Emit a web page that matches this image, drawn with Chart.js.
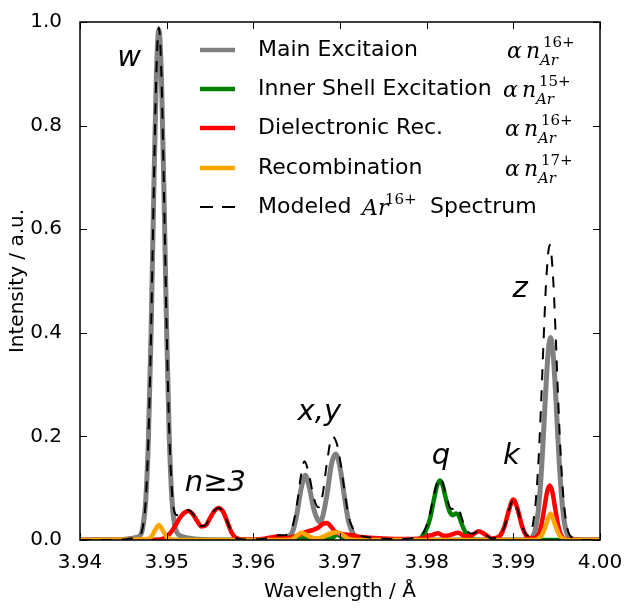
<!DOCTYPE html>
<html>
<head>
<meta charset="utf-8">
<script src="https://cdn.jsdelivr.net/npm/chart.js@4.4.1/dist/chart.umd.min.js"></script>
<style>
  html, body { margin: 0; padding: 0; background: #fff; }
</style>
</head>
<body>
<canvas id="spectrum" width="629" height="608"></canvas>
<script>
// wavelength (Angstrom) / intensity pairs
const mainWl = [3.940, 3.944, 3.9455, 3.9465, 3.947, 3.9473, 3.9476, 3.9479, 3.9482, 3.9485, 3.9488, 3.9491,
  3.9494, 3.9497, 3.9500, 3.9503, 3.9506, 3.9509, 3.9512, 3.9516, 3.9525, 3.954, 3.957,
  3.962, 3.963, 3.964, 3.9645, 3.965, 3.9655, 3.966, 3.9665, 3.967, 3.9674, 3.9677, 3.968, 3.9685,
  3.969, 3.9695, 3.970, 3.9705, 3.971, 3.9715, 3.972, 3.973, 3.975,
  3.991, 3.9918, 3.9922, 3.9925, 3.9928, 3.9931, 3.9934, 3.9937, 3.994, 3.9943, 3.9946, 3.9949,
  3.9952, 3.9955, 3.9958, 3.9961, 3.9964, 3.9968, 3.998, 4.000];
const mainInt = [0, 0, 0.002, 0.005, 0.01, 0.03, 0.08, 0.198, 0.40, 0.66, 0.891, 0.985,
  0.891, 0.66, 0.40, 0.198, 0.08, 0.03, 0.014, 0.008, 0.004, 0.001, 0,
  0, 0.002, 0.006, 0.015, 0.048, 0.098, 0.125, 0.098, 0.058, 0.04, 0.035, 0.045, 0.088,
  0.145, 0.166, 0.14, 0.085, 0.035, 0.013, 0.005, 0.002, 0,
  0, 0.002, 0.006, 0.017, 0.045, 0.098, 0.179, 0.276, 0.358, 0.391, 0.358, 0.276,
  0.179, 0.098, 0.045, 0.017, 0.006, 0.002, 0, 0];

const innerWl = [3.940, 3.964, 3.9655, 3.9662, 3.967, 3.969, 3.9697, 3.9705, 3.972,
  3.979, 3.9796, 3.980, 3.9804, 3.9808, 3.9812, 3.9815, 3.9818, 3.9821, 3.9824, 3.9827, 3.983,
  3.9834, 3.9837, 3.984, 3.9844, 3.9848, 3.9853, 3.986, 4.000];
const innerInt = [0, 0, 0.002, 0.005, 0.001, 0.003, 0.01, 0.002, 0,
  0, 0.01, 0.022, 0.042, 0.075, 0.105, 0.115, 0.108, 0.088, 0.068, 0.053, 0.048,
  0.051, 0.047, 0.033, 0.017, 0.007, 0.001, 0, 0];

const dielWl = [3.940, 3.948, 3.9495, 3.950, 3.9505, 3.951, 3.9515, 3.952, 3.9525, 3.953, 3.9535, 3.954,
  3.9545, 3.955, 3.9555, 3.956, 3.9565, 3.957, 3.9575, 3.958, 3.959, 3.961, 3.962, 3.963, 3.9635,
  3.964, 3.965, 3.966, 3.967, 3.9675, 3.968, 3.9685, 3.969, 3.9695, 3.970, 3.971, 3.972, 3.974, 3.977,
  3.9795, 3.980, 3.9807, 3.9813, 3.982, 3.9826, 3.9836, 3.9845, 3.9852, 3.986, 3.9868, 3.9875,
  3.988, 3.9885, 3.989, 3.9895, 3.990, 3.9905, 3.991, 3.9915, 3.992,
  3.9925, 3.993, 3.9933, 3.9936, 3.9939, 3.9942, 3.9945, 3.9948, 3.9951, 3.9954, 3.9957, 3.9962, 4.000];
const dielInt = [0, 0, 0.002, 0.006, 0.015, 0.028, 0.042, 0.052, 0.056, 0.05, 0.037, 0.026,
  0.028, 0.042, 0.056, 0.062, 0.055, 0.035, 0.014, 0.004, 0.001, 0.002, 0.005, 0.007, 0.005,
  0.004, 0.008, 0.015, 0.02, 0.024, 0.031, 0.033, 0.025, 0.015, 0.012, 0.01, 0.007, 0.004, 0.002,
  0.003, 0.007, 0.01, 0.013, 0.008, 0.009, 0.014, 0.007, 0.009, 0.017, 0.01, 0.003,
  0.004, 0.009, 0.027, 0.058, 0.078, 0.059, 0.027, 0.008, 0.003,
  0.004, 0.014, 0.034, 0.064, 0.093, 0.105, 0.093, 0.064, 0.034, 0.014, 0.005, 0.001, 0];

const recWl = [3.940, 3.9478, 3.9482, 3.9486, 3.9491, 3.9496, 3.950, 3.9504, 3.951,
  3.964, 3.9645, 3.965, 3.9656, 3.9662, 3.9668, 3.9675, 3.968, 3.969, 3.9697, 3.9705, 3.971, 3.972,
  3.9925, 3.9928, 3.9933, 3.9938, 3.9943, 3.9948, 3.9953, 3.9958, 3.9963, 4.000];
const recInt = [0, 0.002, 0.006, 0.017, 0.029, 0.017, 0.006, 0.002, 0,
  0, 0.002, 0.008, 0.014, 0.009, 0.004, 0.003, 0.006, 0.013, 0.015, 0.008, 0.002, 0,
  0, 0.002, 0.01, 0.03, 0.051, 0.03, 0.01, 0.002, 0, 0];

const modelWl = [3.940, 3.944, 3.9455, 3.9465, 3.947, 3.9473, 3.9476, 3.9479, 3.9482, 3.9485, 3.9488, 3.9491,
  3.9494, 3.9497, 3.9500, 3.9503, 3.9506, 3.9509, 3.9512, 3.9516, 3.952, 3.9525, 3.953, 3.9535, 3.954,
  3.9545, 3.955, 3.9555, 3.956, 3.9565, 3.957, 3.9575, 3.958, 3.959, 3.961, 3.962, 3.963, 3.9635,
  3.964, 3.9645, 3.965, 3.9655, 3.9659, 3.9664, 3.967, 3.9675, 3.968, 3.9685, 3.9691, 3.9696, 3.970,
  3.9705, 3.971, 3.9715, 3.972, 3.974, 3.977,
  3.9795, 3.980, 3.9804, 3.9808, 3.9812, 3.9815, 3.9818, 3.9821, 3.9824, 3.9827, 3.983, 3.9834, 3.9837,
  3.984, 3.9844, 3.9848, 3.9853, 3.986, 3.9868, 3.9875,
  3.988, 3.9885, 3.989, 3.9895, 3.990, 3.9905, 3.991, 3.9915, 3.9918,
  3.992, 3.9923, 3.9926, 3.9929, 3.9932, 3.9935, 3.9938, 3.9942, 3.9946, 3.9949, 3.9952, 3.9955,
  3.9958, 3.9961, 3.9964, 3.9967, 3.9972, 3.998, 4.000];
const modelInt = [0, 0, 0.002, 0.005, 0.01, 0.03, 0.08, 0.2, 0.402, 0.665, 0.895, 0.99,
  0.895, 0.665, 0.406, 0.208, 0.096, 0.054, 0.048, 0.05, 0.055, 0.058, 0.051, 0.038, 0.027,
  0.029, 0.043, 0.057, 0.062, 0.055, 0.035, 0.014, 0.004, 0.001, 0.002, 0.005, 0.009, 0.009,
  0.012, 0.025, 0.065, 0.125, 0.152, 0.128, 0.08, 0.063, 0.088, 0.15, 0.2, 0.188, 0.155,
  0.097, 0.045, 0.022, 0.012, 0.004, 0.002,
  0.012, 0.029, 0.052, 0.084, 0.11, 0.12, 0.113, 0.095, 0.077, 0.062, 0.06, 0.064, 0.061,
  0.045, 0.025, 0.015, 0.012, 0.017, 0.01, 0.003,
  0.004, 0.009, 0.027, 0.058, 0.078, 0.059, 0.027, 0.01, 0.008,
  0.013, 0.034, 0.077, 0.152, 0.261, 0.389, 0.503, 0.57, 0.503, 0.389, 0.261, 0.152,
  0.077, 0.034, 0.013, 0.006, 0.002, 0, 0];

const xTicks = [3.94, 3.95, 3.96, 3.97, 3.98, 3.99, 4.00];
const yTicks = [0, 0.2, 0.4, 0.6, 0.8, 1.0];

const legendNames = ['Main Excitaion', 'Inner Shell Excitation', 'Dielectronic Rec.', 'Recombination'];
const legendCharges = ['16+', '15+', '16+', '17+'];

const peakNames = ['w', 'n\u22653', 'x,y', 'q', 'k', 'z'];
const peakNameWl = [3.9443, 3.9521, 3.9651, 3.9806, 3.9888, 3.9899];
const peakNameInt = [0.915, 0.095, 0.232, 0.147, 0.147, 0.47];

const colors = { main: '#808080', inner: '#008000', diel: '#ff0000', rec: '#ffa500' };

function pairs(xs, ys) {
  return xs.map((x, i) => ({ x, y: ys[i] }));
}

function series(data, color, order) {
  return {
    data,
    borderColor: color,
    borderWidth: 4.5,
    pointRadius: 0,
    cubicInterpolationMode: 'monotone',
    fill: false,
    order,
  };
}

const datasets = [
  Object.assign(series(pairs(mainWl, mainInt), colors.main, 4), { borderWidth: 5 }),
  series(pairs(innerWl, innerInt), colors.inner, 3),
  series(pairs(dielWl, dielInt), colors.diel, 2),
  series(pairs(recWl, recInt), colors.rec, 1),
  Object.assign(series(pairs(modelWl, modelInt), '#000000', 0), { borderWidth: 2, borderDash: [11, 10] }),
];

function line(ctx, x1, y1, x2, y2) {
  ctx.beginPath();
  ctx.moveTo(x1, y1);
  ctx.lineTo(x2, y2);
  ctx.stroke();
}

// inward ticks on all four sides, frame, peak names, legend with the charge states
const overlay = {
  id: 'overlay',
  afterDraw(chart) {
    const ctx = chart.ctx;
    const a = chart.chartArea;
    const xs = chart.scales.x;
    const ys = chart.scales.y;
    ctx.save();
    ctx.strokeStyle = '#000';
    ctx.lineWidth = 1;
    xTicks.forEach((v) => {
      const px = Math.round(xs.getPixelForValue(v)) + 0.5;
      line(ctx, px, a.bottom, px, a.bottom - 7);
      line(ctx, px, a.top, px, a.top + 7);
    });
    yTicks.forEach((v) => {
      const py = Math.round(ys.getPixelForValue(v)) + 0.5;
      line(ctx, a.left, py, a.left + 7, py);
      line(ctx, a.right, py, a.right - 7, py);
    });
    ctx.lineWidth = 1.5;
    ctx.strokeRect(a.left, a.top, a.right - a.left, a.bottom - a.top);

    ctx.fillStyle = '#000';
    ctx.font = 'italic 29px "DejaVu Sans"';
    ctx.textBaseline = 'alphabetic';
    ctx.textAlign = 'left';
    peakNames.forEach((name, i) => {
      ctx.fillText(name, xs.getPixelForValue(peakNameWl[i]), ys.getPixelForValue(peakNameInt[i]));
    });

    const rows = [50, 89, 128, 168, 207];
    const mathX = [507, 503, 505, 505];
    const handleColors = [colors.main, colors.inner, colors.diel, colors.rec];
    ctx.lineWidth = 4.5;
    legendNames.forEach((name, i) => {
      const y = rows[i];
      ctx.strokeStyle = handleColors[i];
      line(ctx, 200, y, 235, y);
      ctx.font = '22px "DejaVu Sans"';
      ctx.textBaseline = 'middle';
      ctx.fillText(name, 258, y);
      ctx.textBaseline = 'alphabetic';
      const m = mathX[i];
      ctx.font = 'italic 22px "DejaVu Serif"';
      ctx.fillText('\u03b1', m, y + 8);
      ctx.fillText('n', m + 19, y + 8);
      ctx.font = 'italic 15px "DejaVu Serif"';
      ctx.fillText('Ar', m + 33, y + 15);
      ctx.font = '15px "DejaVu Serif"';
      ctx.fillText(legendCharges[i], m + 36, y - 3);
    });
    const y5 = rows[4];
    ctx.strokeStyle = '#000';
    ctx.lineWidth = 2;
    ctx.setLineDash([13, 9]);
    line(ctx, 200, y5, 235, y5);
    ctx.setLineDash([]);
    ctx.font = '22px "DejaVu Sans"';
    ctx.textBaseline = 'middle';
    ctx.fillText('Modeled', 258, y5);
    ctx.fillText('Spectrum', 430, y5);
    ctx.textBaseline = 'alphabetic';
    ctx.font = 'italic 22px "DejaVu Serif"';
    ctx.fillText('Ar', 362, y5 + 8);
    ctx.font = '15px "DejaVu Serif"';
    ctx.fillText('16+', 385, y5 - 3);
    ctx.restore();
  },
};

const canvas = document.getElementById('spectrum');

const chart = new Chart(canvas, {
  type: 'line',
  data: { datasets },
  options: {
    responsive: false,
    animation: false,
    devicePixelRatio: 1,
    layout: { padding: { top: 16, right: 29, left: 0, bottom: 0 } },
    plugins: { legend: { display: false }, tooltip: { enabled: false } },
    scales: {
      x: {
        type: 'linear',
        min: 3.94,
        max: 4.00,
        grid: { display: false },
        border: { display: false },
        afterBuildTicks: (scale) => { scale.ticks = xTicks.map((v) => ({ value: v })); },
        afterFit: (scale) => { scale.height = 68; },
        ticks: {
          color: '#000',
          font: { family: 'DejaVu Sans', size: 20 },
          padding: 3,
          maxRotation: 0,
          callback: (v) => Number(v).toFixed(2),
        },
        title: {
          display: true,
          text: 'Wavelength / \u00c5',
          color: '#000',
          font: { family: 'DejaVu Sans', size: 20 },
          padding: { top: 0, bottom: 4 },
        },
      },
      y: {
        min: 0,
        max: 1,
        grid: { display: false },
        border: { display: false },
        afterBuildTicks: (scale) => { scale.ticks = yTicks.map((v) => ({ value: v })); },
        afterFit: (scale) => { scale.width = 80; },
        ticks: {
          color: '#000',
          font: { family: 'DejaVu Sans', size: 20 },
          padding: 10,
          callback: (v) => Number(v).toFixed(1),
        },
        title: {
          display: true,
          text: 'Intensity / a.u.',
          color: '#000',
          font: { family: 'DejaVu Sans', size: 20 },
          padding: { top: 6, bottom: 0 },
        },
      },
    },
  },
  plugins: [overlay],
});
</script>
</body>
</html>
